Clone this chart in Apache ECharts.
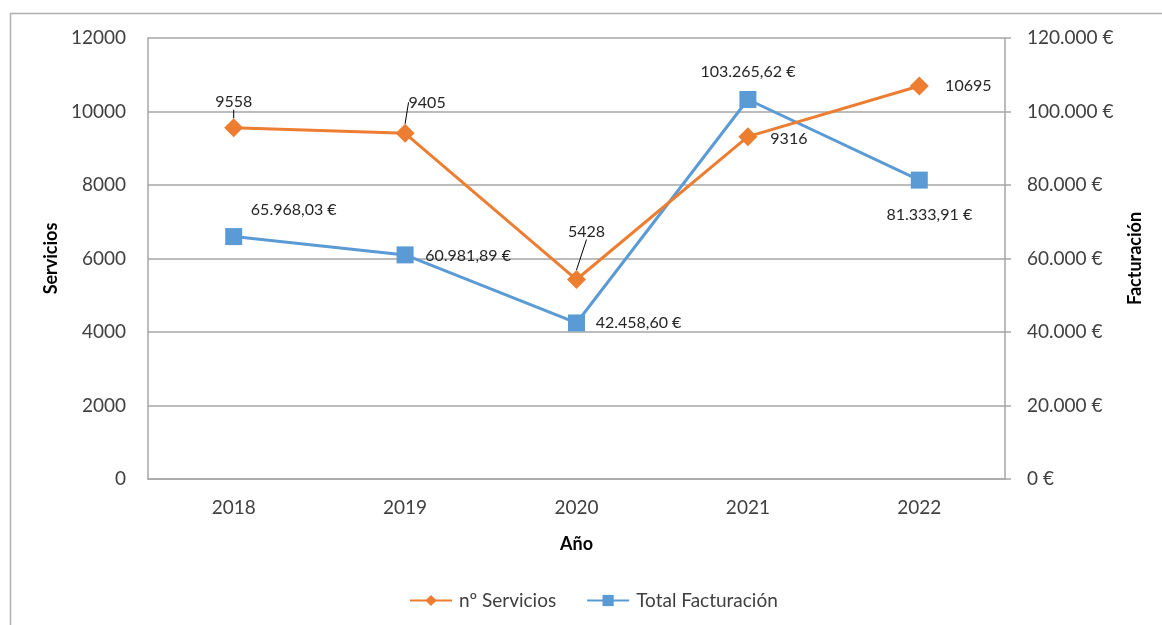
<!DOCTYPE html>
<html>
<head>
<meta charset="utf-8">
<script src="https://cdn.jsdelivr.net/npm/echarts@6/dist/echarts.min.js"></script>
<style>
html,body{margin:0;padding:0;background:#fff;}
#c{width:1162px;height:625px;}
</style>
</head>
<body>
<div id="c"></div>
<script>
var years = ['2018', '2019', '2020', '2021', '2022'];
var servicios = [9558, 9405, 5428, 9316, 10695];
var facturacion = [65968.03, 60981.89, 42458.60, 103265.62, 81333.91];
var leftTicks = [0, 2000, 4000, 6000, 8000, 10000, 12000];
var rightTicks = [0, 20000, 40000, 60000, 80000, 100000, 120000];

// label offsets (presentation only)
var servOffsets = [[0, -26], [22, -31], [10, -48], [41, 2], [49, 0]];
var servLeader = [true, true, true, false, false];
var factOffsets = [[60, -27], [63, 1], [62, 0], [0, -28], [10, 35]];

function thousands(intStr) {
  return intStr.replace(/\B(?=(\d{3})+(?!\d))/g, '.');
}
function euro0(v) { return thousands(String(Math.round(v))) + ' €'; }
function euro2(v) {
  var p = v.toFixed(2).split('.');
  return thousands(p[0]) + ',' + p[1] + ' €';
}

var FONT = 'Lato';
var orange = '#ED7D31', blue = '#5B9BD5';

var chart = echarts.init(document.getElementById('c'), null, {renderer: 'canvas'});
chart.setOption({
  animation: false,
  textStyle: {fontFamily: FONT},
  graphic: [{
    type: 'rect', silent: true, z: -1,
    shape: {x: 10.5, y: 13.5, width: 1300, height: 800},
    style: {fill: 'none', stroke: '#b0b0b0', lineWidth: 1.5}
  }],
  grid: {left: 148, top: 38, right: 157, bottom: 146},
  legend: {
    bottom: 10, left: 404,
    itemWidth: 42, itemHeight: 14, itemGap: 30,
    textStyle: {fontFamily: FONT, fontSize: 19, color: '#404040', padding: [0, 0, 0, 2]},
    data: ['nº Servicios', 'Total Facturación']
  },
  xAxis: {
    type: 'category', data: years, boundaryGap: true,
    name: 'Año', nameLocation: 'middle', nameGap: 56,
    nameTextStyle: {fontFamily: FONT, fontSize: 18, fontWeight: 'bold', color: '#000'},
    axisLine: {lineStyle: {color: '#a6a6a6', width: 1.5}},
    axisTick: {show: false},
    axisLabel: {fontSize: 19, color: '#404040', margin: 19}
  },
  yAxis: [{
    type: 'value', min: 0, max: 12000, interval: 2000,
    name: 'Servicios', nameLocation: 'middle', nameGap: 80, nameRotate: 90,
    nameTextStyle: {fontFamily: FONT, fontSize: 18, fontWeight: 'bold', color: '#000'},
    axisLine: {show: true, lineStyle: {color: '#a6a6a6', width: 1.5}},
    axisTick: {show: false},
    axisLabel: {fontSize: 19, color: '#404040', margin: 22,
      formatter: function (v) { return leftTicks.indexOf(v) >= 0 ? String(v) : ''; }},
    splitLine: {lineStyle: {color: '#a6a6a6', width: 1.5}}
  }, {
    type: 'value', min: 0, max: 120000, interval: 20000, position: 'right',
    name: 'Facturación', nameLocation: 'middle', nameGap: 121, nameRotate: 90,
    nameTextStyle: {fontFamily: FONT, fontSize: 18, fontWeight: 'bold', color: '#000'},
    axisLine: {show: true, lineStyle: {color: '#a6a6a6', width: 1.5}},
    axisTick: {show: true, length: 6, lineStyle: {color: '#a6a6a6', width: 1.5}},
    axisLabel: {fontSize: 19, color: '#404040', margin: 22,
      formatter: function (v) { return rightTicks.indexOf(v) >= 0 ? euro0(v) : ''; }},
    splitLine: {show: false}
  }],
  series: [{
    name: 'nº Servicios', type: 'line', yAxisIndex: 0,
    data: servicios.map(function (v, i) {
      return {value: v, labelLine: {show: servLeader[i]}};
    }),
    symbol: 'diamond', symbolSize: 19,
    lineStyle: {color: orange, width: 3},
    itemStyle: {color: orange},
    label: {show: true, position: 'inside', fontSize: 16, color: '#262626',
      formatter: function (p) { return String(p.value); }},
    labelLine: {lineStyle: {color: '#000', width: 1}},
    labelLayout: function (p) {
      var o = servOffsets[p.dataIndex];
      return {dx: o[0], dy: o[1]};
    },
    z: 3
  }, {
    name: 'Total Facturación', type: 'line', yAxisIndex: 1,
    data: facturacion,
    symbol: 'rect', symbolSize: 17,
    lineStyle: {color: blue, width: 3},
    itemStyle: {color: blue},
    label: {show: true, position: 'inside', fontSize: 16, color: '#262626',
      formatter: function (p) { return euro2(p.value); }},
    labelLayout: function (p) {
      var o = factOffsets[p.dataIndex];
      return {dx: o[0], dy: o[1]};
    },
    z: 2
  }]
});
</script>
</body>
</html>
